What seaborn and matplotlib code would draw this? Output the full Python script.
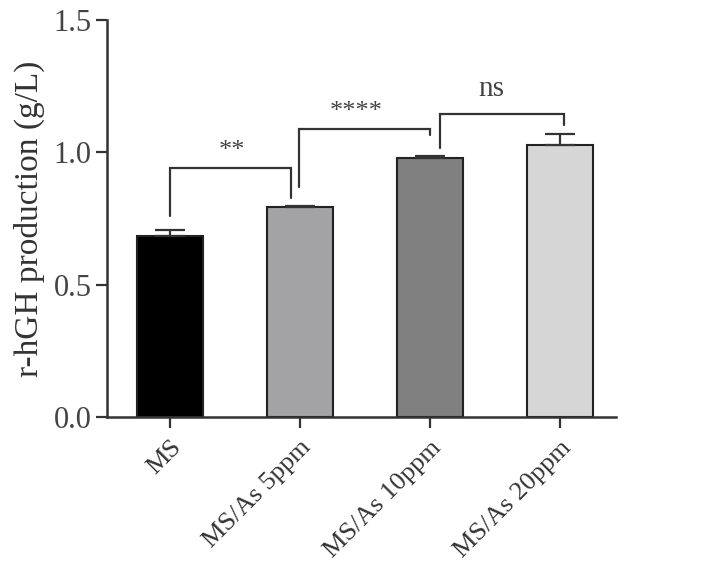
import matplotlib
matplotlib.use("Agg")
import matplotlib.pyplot as plt
import seaborn as sns
import pandas as pd

categories = ["MS", "MS/As 5ppm", "MS/As 10ppm", "MS/As 20ppm"]
values = [0.685, 0.795, 0.980, 1.027]
errors = [0.021, 0.003, 0.005, 0.044]
colors = ["#000000", "#A2A2A6", "#808080", "#D6D6D6"]

# significance brackets
sig_left_x = [0.0, 0.995, 2.08]
sig_right_x = [0.93, 2.0, 3.03]
sig_heights = [0.942, 1.089, 1.146]
sig_left_bottom = [0.76, 0.869, 1.018]
sig_right_bottom = [0.826, 1.064, 1.102]
sig_labels = ["**", "****", "ns"]
sig_label_x = [0.48, 1.43, 2.475]
sig_label_y = [0.965, 1.11, 1.19]

sns.set_theme(style="ticks")
plt.rcParams["font.family"] = ["Liberation Serif", "DejaVu Serif"]

df = pd.DataFrame({"cond": categories, "val": values})

fig = plt.figure(figsize=(7.12, 5.72), dpi=100)
ax = fig.add_axes([0.150, 0.271, 0.715, 0.694])

sns.barplot(data=df, x="cond", y="val", hue="cond", palette=colors, legend=False,
            errorbar=None, width=0.51, edgecolor="#222222", linewidth=1.5, ax=ax)

xs = list(range(len(categories)))
ax.errorbar(xs, values, yerr=[[0] * len(errors), errors], fmt="none",
            ecolor="#333333", elinewidth=1.6, capsize=11, capthick=1.6, zorder=1)

text_color = "#333333"
for xl, xr, h, lb, rb, lab, lx, ly in zip(sig_left_x, sig_right_x, sig_heights,
                                          sig_left_bottom, sig_right_bottom,
                                          sig_labels, sig_label_x, sig_label_y):
    ax.plot([xl, xl, xr, xr], [lb, h, h, rb], color="#333333", lw=1.6,
            solid_joinstyle="miter", clip_on=False)
    ax.text(lx, ly, lab, ha="center", va="bottom",
            fontsize=21 if lab == "ns" else 19, color="#444444")

ax.set_ylim(0, 1.5)
ax.set_xlim(-0.485, 3.43)
ax.set_yticks([0.0, 0.5, 1.0, 1.5])
ax.set_yticklabels(["0.0", "0.5", "1.0", "1.5"])
ax.set_xlabel("")
ax.set_ylabel("r-hGH production (g/L)", fontsize=24, color=text_color, labelpad=6)
ax.tick_params(axis="y", labelsize=22, labelcolor="#444444", length=8, width=1.6,
               color="#333333", direction="out", pad=3)
ax.tick_params(axis="x", labelsize=19, labelcolor=text_color, length=8, width=1.6,
               color="#333333", direction="out", pad=6)
for lbl in ax.get_xticklabels():
    lbl.set_rotation(45)
    lbl.set_ha("right")
    lbl.set_rotation_mode("anchor")

sns.despine(ax=ax)
for s in ["left", "bottom"]:
    ax.spines[s].set_linewidth(1.8)
    ax.spines[s].set_color("#333333")

fig.savefig("out.png", dpi=100)
